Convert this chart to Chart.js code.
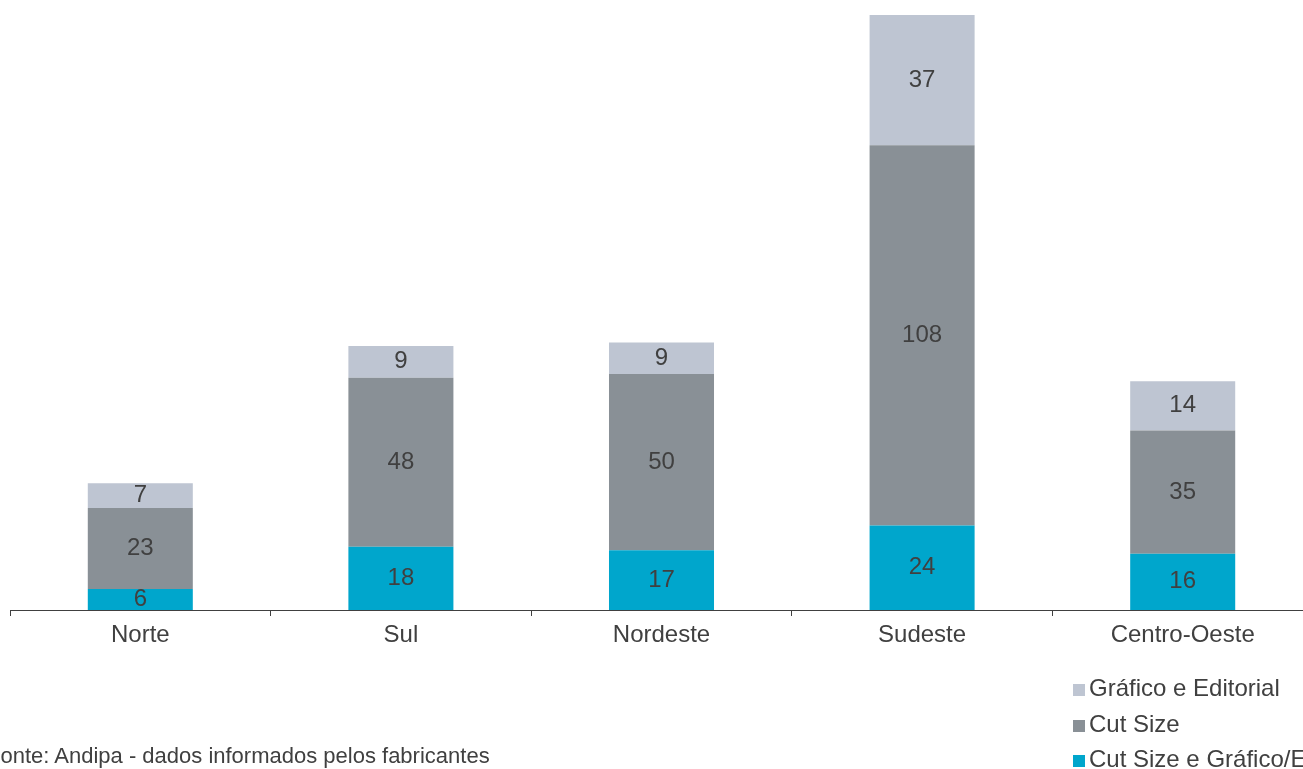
<!DOCTYPE html>
<html>
<head>
<meta charset="utf-8">
<script src="https://cdn.jsdelivr.net/npm/chart.js@4/dist/chart.umd.min.js"></script>
<style>
	html, body { margin: 0; padding: 0; overflow: hidden; background: #fff; }
	body { width: 1303px; height: 769px; position: relative; font-family: "Liberation Sans", Arial, sans-serif; color: #404040; }
	#wrap { position: absolute; left: 0; top: 0; width: 1313px; height: 769px; }
	.legend { position: absolute; left: 1073px; top: 672px; white-space: nowrap; }
	.legend div { height: 35.5px; line-height: 32px; font-size: 24px; }
	.legend span.box { display: inline-block; width: 12px; height: 12px; margin-right: 4px; vertical-align: 0px; }
	.fonte { position: absolute; left: -13px; top: 743px; font-size: 22px; white-space: nowrap; }
</style>
</head>
<body>
<div id="wrap"><canvas id="chart" width="1313" height="769"></canvas></div>
<div class="legend" id="legend"></div>
<div class="fonte">Fonte: Andipa - dados informados pelos fabricantes</div>
<script>
(function () {
	'use strict';

	const regioes = ['Norte', 'Sul', 'Nordeste', 'Sudeste', 'Centro-Oeste'];
	const cutSizeGrafico = [6, 18, 17, 24, 16];
	const cutSize = [23, 48, 50, 108, 35];
	const graficoEditorial = [7, 9, 9, 37, 14];

	const textColor = '#404040';

	// draw the value in the middle of each segment
	const valueLabels = {
		id: 'valueLabels',
		afterDatasetsDraw(chart) {
			const ctx = chart.ctx;
			ctx.save();
			ctx.font = '24px "Liberation Sans", Arial, sans-serif';
			ctx.fillStyle = textColor;
			ctx.textAlign = 'center';
			ctx.textBaseline = 'middle';
			chart.data.datasets.forEach(function (ds, i) {
				chart.getDatasetMeta(i).data.forEach(function (bar, j) {
					const mid = (bar.y + bar.base) / 2;
					ctx.fillText(String(ds.data[j]), bar.x, mid);
				});
			});
			ctx.restore();
		}
	};

	const data = {
		labels: regioes,
		datasets: [
			{
				label: 'Cut Size e Gráfico/Editorial',
				data: cutSizeGrafico,
				backgroundColor: '#00a6cc'
			},
			{
				label: 'Cut Size',
				data: cutSize,
				backgroundColor: '#899096'
			},
			{
				label: 'Gráfico e Editorial',
				data: graficoEditorial,
				backgroundColor: '#bec5d2'
			}
		]
	};

	const ctx = document.getElementById('chart');
	const myChart = new Chart(ctx, {
		type: 'bar',
		data: data,
		plugins: [valueLabels],
		options: {
			responsive: false,
			animation: false,
			categoryPercentage: 1,
			barPercentage: 0.403,
			layout: { padding: { left: 10, top: 15, right: 0, bottom: 0 } },
			plugins: {
				legend: { display: false },
				tooltip: { enabled: false }
			},
			scales: {
				x: {
					stacked: true,
					offset: true,
					afterFit: function (scale) { scale.height = 159; },
					border: { display: true, color: '#404040', width: 1 },
					grid: {
						offset: true,
						drawOnChartArea: false,
						drawTicks: true,
						tickLength: 6,
						color: '#404040'
					},
					ticks: {
						color: textColor,
						padding: 5,
						font: { family: '"Liberation Sans", Arial, sans-serif', size: 24 }
					}
				},
				y: {
					stacked: true,
					display: false,
					min: 0,
					max: 169
				}
			}
		}
	});

	// legend, top to bottom in reverse dataset order
	const legend = document.getElementById('legend');
	data.datasets.slice().reverse().forEach(function (ds) {
		const row = document.createElement('div');
		const box = document.createElement('span');
		box.className = 'box';
		box.style.background = ds.backgroundColor;
		row.appendChild(box);
		row.appendChild(document.createTextNode(ds.label));
		legend.appendChild(row);
	});
})();
</script>
</body>
</html>
